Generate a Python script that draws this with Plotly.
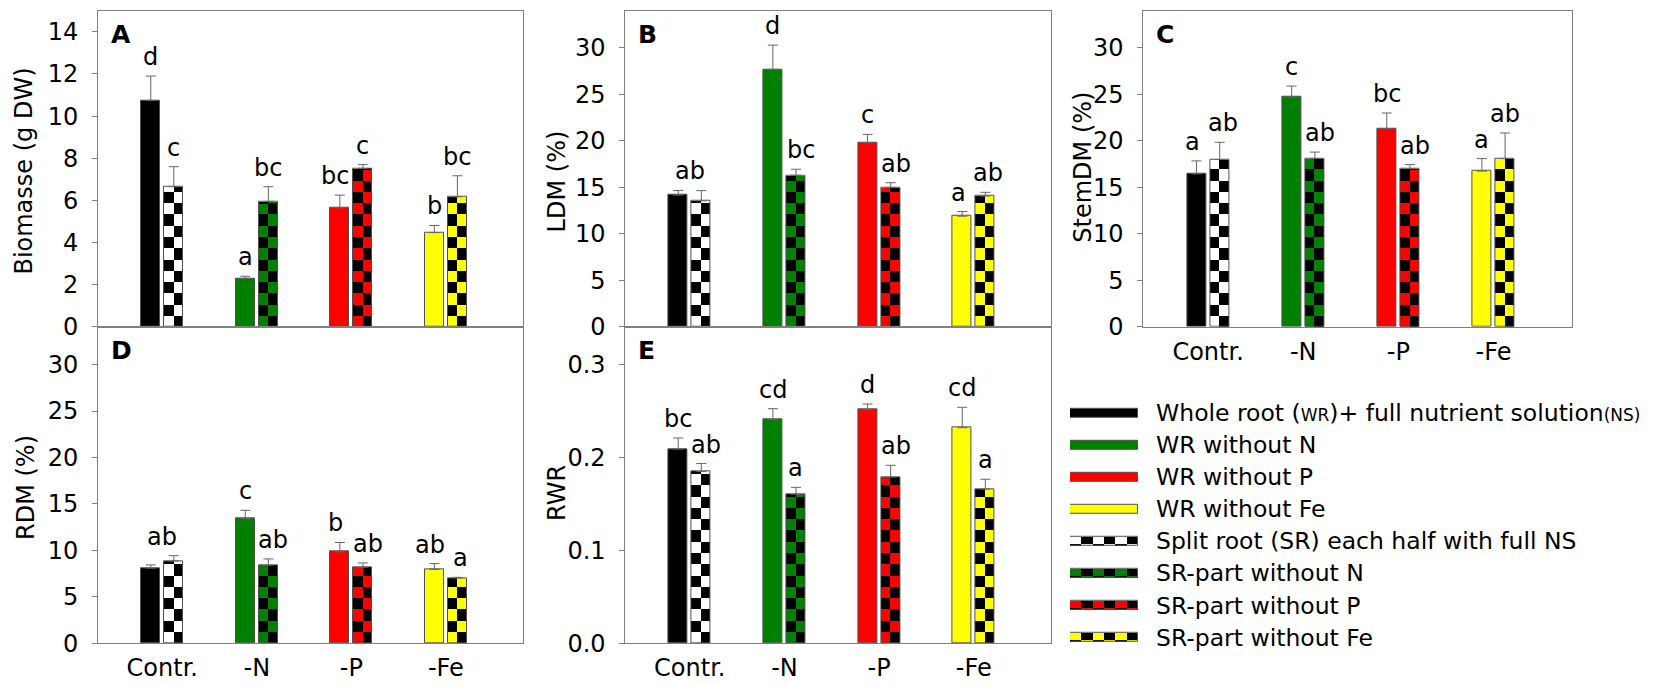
import plotly.graph_objects as go

# ---------------- data ----------------
categories = ["Contr.", "-N", "-P", "-Fe"]

# A: Biomasse (g DW)
biomass_wr = [10.75, 2.30, 5.65, 4.47]
biomass_wr_err = [1.15, 0.10, 0.60, 0.34]
biomass_sr = [6.65, 5.95, 7.52, 6.17]
biomass_sr_err = [0.95, 0.70, 0.18, 1.00]
biomass_wr_letters = ["d", "a", "bc", "b"]
biomass_sr_letters = ["c", "bc", "c", "bc"]
biomass_group_letters = ["", "", "", ""]

# B: LDM (%)
ldm_wr = [14.17, 27.70, 19.80, 11.90]
ldm_wr_err = [0.50, 2.60, 0.90, 0.50]
ldm_sr = [13.55, 16.30, 15.00, 14.07]
ldm_sr_err = [1.10, 0.65, 0.50, 0.40]
ldm_wr_letters = ["", "d", "c", "a"]
ldm_sr_letters = ["", "bc", "ab", "ab"]
ldm_group_letters = ["ab", "", "", ""]

# C: StemDM (%)
stem_wr = [16.45, 24.70, 21.30, 16.75]
stem_wr_err = [1.40, 1.20, 1.70, 1.35]
stem_sr = [18.00, 18.10, 17.00, 18.10]
stem_sr_err = [1.85, 0.70, 0.45, 2.75]
stem_wr_letters = ["a", "c", "bc", "a"]
stem_sr_letters = ["ab", "ab", "ab", "ab"]
stem_group_letters = ["", "", "", ""]

# D: RDM (%)
rdm_wr = [8.10, 13.42, 9.86, 7.96]
rdm_wr_err = [0.35, 0.90, 1.00, 0.63]
rdm_sr = [8.87, 8.42, 8.20, 7.04]
rdm_sr_err = [0.57, 0.67, 0.46, 0.07]
rdm_wr_letters = ["", "c", "b", "ab"]
rdm_sr_letters = ["", "ab", "ab", "a"]
rdm_group_letters = ["ab", "", "", ""]

# E: RWR
rwr_wr = [0.209, 0.241, 0.2515, 0.232]
rwr_wr_err = [0.012, 0.0115, 0.006, 0.022]
rwr_sr = [0.185, 0.1605, 0.179, 0.166]
rwr_sr_err = [0.0085, 0.0074, 0.0126, 0.0106]
rwr_wr_letters = ["bc", "cd", "d", "cd"]
rwr_sr_letters = ["ab", "a", "ab", "a"]
rwr_group_letters = ["", "", "", ""]

wr_colors = ["#000000", "#008000", "#FF0000", "#FFFF00"]
sr_colors = ["#FFFFFF", "#008000", "#FF0000", "#FFFF00"]

legend_wr_labels = [
    "Whole root (<span style='font-size:17px'>WR</span>)+ full nutrient solution<span style='font-size:17px'>(NS)</span>",
    "WR without N",
    "WR without P",
    "WR without Fe",
]
legend_sr_labels = [
    "Split root (SR) each half with full NS",
    "SR-part without N",
    "SR-part without P",
    "SR-part without Fe",
]

# ---------------- layout helpers ----------------
W, H = 1659, 685
FONT = "DejaVu Sans"
AXC = "#808080"
OUTLINE = "#505050"
ERRC = "#666666"
ROW_PX = 11.5          # checker square height in px
BW = 0.2               # bar width (category units)
OFF = 0.122            # bar offset from category centre
XR = [-0.68, 3.82]


def fx(p):
    return p / W


def fy(p):
    return (H - p) / H


panels = [
    dict(name="A", wr=biomass_wr, wre=biomass_wr_err, sr=biomass_sr, sre=biomass_sr_err,
         wl=biomass_wr_letters, sl=biomass_sr_letters, gl=biomass_group_letters,
         yr=[0, 15], dtick=2, fmt="d", title="Biomasse (g DW)", tpos=(16, 167),
         xpx=(90, 515.4), ypx=(2.8, 325.5), xlab=False),
    dict(name="B", wr=ldm_wr, wre=ldm_wr_err, sr=ldm_sr, sre=ldm_sr_err,
         wl=ldm_wr_letters, sl=ldm_sr_letters, gl=ldm_group_letters,
         yr=[0, 34], dtick=5, fmt="d", title="LDM (%)", tpos=(549, 177),
         xpx=(617.4, 1043.4), ypx=(2.8, 325.5), xlab=False),
    dict(name="C", wr=stem_wr, wre=stem_wr_err, sr=stem_sr, sre=stem_sr_err,
         wl=stem_wr_letters, sl=stem_sr_letters, gl=stem_group_letters,
         yr=[0, 34], dtick=5, fmt="d", title="StemDM (%)", tpos=(1075, 163),
         xpx=(1135.4, 1563.5), ypx=(2.8, 325.5), xlab=True),
    dict(name="D", wr=rdm_wr, wre=rdm_wr_err, sr=rdm_sr, sre=rdm_sr_err,
         wl=rdm_wr_letters, sl=rdm_sr_letters, gl=rdm_group_letters,
         yr=[0, 34], dtick=5, fmt="d", title="RDM (%)", tpos=(18, 490),
         xpx=(90, 515.4), ypx=(326, 648.7), xlab=True),
    dict(name="E", wr=rwr_wr, wre=rwr_wr_err, sr=rwr_sr, sre=rwr_sr_err,
         wl=rwr_wr_letters, sl=rwr_sr_letters, gl=rwr_group_letters,
         yr=[0, 0.34], dtick=0.1, fmt=".1f", title="RWR", tpos=(549, 495),
         xpx=(617.4, 1043.4), ypx=(326, 648.7), xlab=True),
]

fig = go.Figure()
annotations = []
layout_axes = {}

x_wr = [i - OFF for i in range(len(categories))]
x_sr = [i + OFF for i in range(len(categories))]


def letter(xa, ya, x, y, text, xshift=0):
    return dict(x=x, y=y, xref=xa, yref=ya, text=text, showarrow=False,
                xanchor="center", yanchor="bottom", yshift=3, xshift=xshift,
                font=dict(size=24, family=FONT, color="black"))


for n, p in enumerate(panels, start=1):
    xa = "x" if n == 1 else f"x{n}"
    ya = "y" if n == 1 else f"y{n}"
    xkey = "xaxis" if n == 1 else f"xaxis{n}"
    ykey = "yaxis" if n == 1 else f"yaxis{n}"

    common = dict(xaxis=xa, yaxis=ya, showlegend=False, hoverinfo="skip")

    def err(e):
        return dict(type="data", array=e, arrayminus=[0] * len(e), symmetric=False,
                    color=ERRC, thickness=1, width=5)

    # whole-root bars
    fig.add_trace(go.Bar(x=x_wr, y=p["wr"], width=BW,
                         marker=dict(color=wr_colors, line=dict(color=OUTLINE, width=1)),
                         error_y=err(p["wre"]), **common))
    # split-root bars base colour
    fig.add_trace(go.Bar(x=x_sr, y=p["sr"], width=BW,
                         marker=dict(color=sr_colors, line=dict(width=0)), **common))
    # checker squares derived from bar heights
    span = p["yr"][1] - p["yr"][0]
    dom_px = p["ypx"][1] - p["ypx"][0]
    h = ROW_PX * span / dom_px
    cx, cb, cy = [], [], []
    for i, v in enumerate(p["sr"]):
        k = 0
        while k * h < v - 1e-12:
            top = min(v, (k + 1) * h)
            side = 1 if k % 2 == 0 else -1
            cx.append(x_sr[i] + side * BW / 4)
            cb.append(k * h)
            cy.append(top - k * h)
            k += 1
    fig.add_trace(go.Bar(x=cx, y=cy, base=cb, width=BW / 2,
                         marker=dict(color="#000000", line=dict(width=0)), **common))
    # outline + error bars for split-root
    fig.add_trace(go.Bar(x=x_sr, y=p["sr"], width=BW,
                         marker=dict(color="rgba(0,0,0,0)", line=dict(color=OUTLINE, width=1)),
                         error_y=err(p["sre"]), **common))

    layout_axes[xkey] = dict(domain=[fx(p["xpx"][0]), fx(p["xpx"][1])], range=XR,
                             tickvals=list(range(len(categories))), ticktext=categories,
                             showticklabels=p["xlab"], ticks="", showgrid=False, zeroline=False,
                             showline=True, mirror=True, linecolor=AXC, linewidth=1,
                             tickfont=dict(size=24, family=FONT, color="black"),
                             ticklabelstandoff=3, anchor=ya, fixedrange=True)
    layout_axes[ykey] = dict(domain=[fy(p["ypx"][1]), fy(p["ypx"][0])], range=p["yr"],
                             dtick=p["dtick"], tick0=0, tickformat=p["fmt"], ticks="outside",
                             ticklen=5, tickcolor=AXC, showgrid=False, zeroline=False,
                             showline=True, mirror=True, linecolor=AXC, linewidth=1,
                             tickfont=dict(size=24, family=FONT, color="black"),
                             ticklabelstandoff=9, anchor=xa, fixedrange=True)

    # significance letters (nudged sideways where neighbours crowd them)
    px_per_unit = dom_px / span
    wr_top = [v + e for v, e in zip(p["wr"], p["wre"])]
    sr_top = [v + e for v, e in zip(p["sr"], p["sre"])]
    for i in range(len(categories)):
        lw, ls, lg = p["wl"][i], p["sl"][i], p["gl"][i]
        sw = ss = 0
        if lw and len(lw) > 1 and sr_top[i] > wr_top[i]:
            sw = -5
        if ls and len(ls) > 1 and wr_top[i] > sr_top[i]:
            ss = 5
        if lw and ls and len(lw) + len(ls) >= 3 and \
                abs(wr_top[i] - sr_top[i]) * px_per_unit < 22:
            sw = min(sw, -4)
            ss = max(ss, 3)
        if lw:
            annotations.append(letter(xa, ya, x_wr[i], wr_top[i], lw, sw))
        if ls:
            annotations.append(letter(xa, ya, x_sr[i], sr_top[i], ls, ss))
        if lg:
            annotations.append(letter(xa, ya, i, max(wr_top[i], sr_top[i]), lg))

    # panel letter
    annotations.append(dict(x=11 / (p["xpx"][1] - p["xpx"][0]), y=1, xref=f"{xa} domain",
                            yref=f"{ya} domain", text=f"<b>{p['name']}</b>", showarrow=False,
                            xanchor="left", yanchor="top", yshift=-7,
                            font=dict(size=25, family=FONT, color="black")))
    # axis title
    annotations.append(dict(x=fx(p["tpos"][0]), y=fy(p["tpos"][1]), xref="paper", yref="paper",
                            text=p["title"], textangle=-90, showarrow=False,
                            xanchor="center", yanchor="middle",
                            font=dict(size=24, family=FONT, color="black")))

# ---------------- legend (drawn in its own hidden axes) ----------------
SW = 68  # swatch length in px units of legend axis
nwr = len(legend_wr_labels)
rows_wr = list(range(nwr))
rows_sr = [nwr + i for i in range(len(legend_sr_labels))]
THK = 0.28
lcommon = dict(xaxis="x6", yaxis="y6", showlegend=False, hoverinfo="skip", orientation="h")
fig.add_trace(go.Bar(y=rows_wr, x=[SW] * nwr, base=0, width=THK,
                     marker=dict(color=wr_colors, line=dict(color=OUTLINE, width=1)), **lcommon))
fig.add_trace(go.Bar(y=rows_sr, x=[SW] * len(rows_sr), base=0, width=THK,
                     marker=dict(color=sr_colors, line=dict(width=0)), **lcommon))
seg = SW / 6
# main checker row (upper ~3/4) and thin lower row in opposite phase
up_y, up_b, up_x, lo_y, lo_b, lo_x = [], [], [], [], [], []
for r in rows_sr:
    for j in range(6):
        if j % 2 == 1:
            up_y.append(r - THK * 0.125)
            up_b.append(j * seg)
            up_x.append(seg)
        else:
            lo_y.append(r + THK * 0.375)
            lo_b.append(j * seg)
            lo_x.append(seg)
fig.add_trace(go.Bar(y=up_y, x=up_x, base=up_b, width=THK * 0.75,
                     marker=dict(color="#000000", line=dict(width=0)), **lcommon))
fig.add_trace(go.Bar(y=lo_y, x=lo_x, base=lo_b, width=THK * 0.25,
                     marker=dict(color="#000000", line=dict(width=0)), **lcommon))
fig.add_trace(go.Bar(y=rows_sr, x=[SW] * len(rows_sr), base=0, width=THK,
                     marker=dict(color="rgba(0,0,0,0)", line=dict(color=OUTLINE, width=1)),
                     **lcommon))
for r, lab in zip(rows_wr + rows_sr, legend_wr_labels + legend_sr_labels):
    annotations.append(dict(x=84, y=r, xref="x6", yref="y6", text=lab, showarrow=False,
                            xanchor="left", yanchor="middle",
                            font=dict(size=23.5, family=FONT, color="black")))

layout_axes["xaxis6"] = dict(domain=[fx(1062), 1.0], range=[0, W - 1062], visible=False,
                             anchor="y6", fixedrange=True)
layout_axes["yaxis6"] = dict(domain=[fy(659.3), fy(396.9)], range=[7.5, -0.5], visible=False,
                             anchor="x6", fixedrange=True)

fig.update_layout(
    width=W, height=H, margin=dict(l=0, r=0, t=0, b=0),
    paper_bgcolor="white", plot_bgcolor="white",
    barmode="overlay", bargap=0,
    font=dict(family=FONT, size=24, color="black"),
    annotations=annotations,
    **layout_axes,
)

fig.write_html("out.html")
